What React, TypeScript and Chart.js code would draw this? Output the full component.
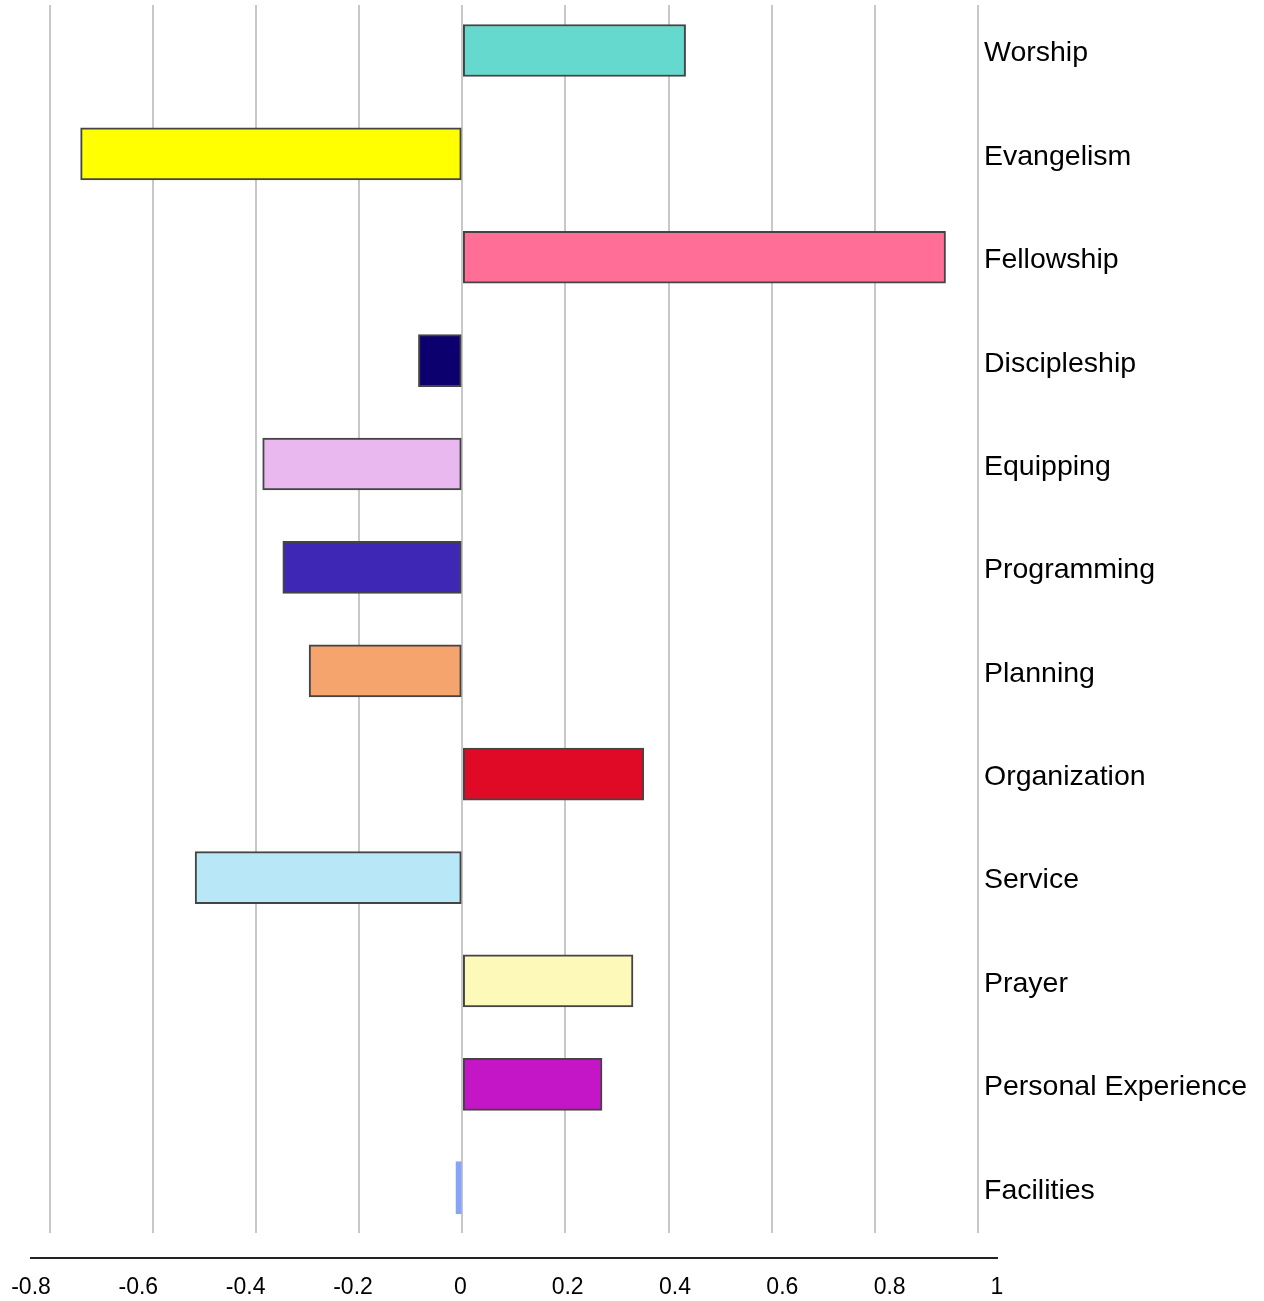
import React, { useEffect, useRef } from 'react';
import { Chart, registerables } from 'chart.js';

Chart.register(...registerables);

const categories = [
  'Worship',
  'Evangelism',
  'Fellowship',
  'Discipleship',
  'Equipping',
  'Programming',
  'Planning',
  'Organization',
  'Service',
  'Prayer',
  'Personal Experience',
  'Facilities',
];

const values = [0.433, -0.74, 0.937, -0.085, -0.387, -0.348, -0.297, 0.352, -0.518, 0.331, 0.271, -0.012];

const barColors = [
  '#66d9cf',
  '#ffff00',
  '#ff6e96',
  '#0c006e',
  '#e8b8ee',
  '#3e27b4',
  '#f5a46e',
  '#e00a26',
  '#b8e8f8',
  '#fdf9b9',
  '#c415c7',
  '#88a4f8',
];

const barBorderWidths = [2, 2, 2, 2, 2, 2, 2, 2, 2, 2, 2, 0];

const xTickValues = [-0.8, -0.6, -0.4, -0.2, 0, 0.2, 0.4, 0.6, 0.8, 1];

const FONT = "'Liberation Sans', Arial, sans-serif";

const labelShiftPlugin = {
  id: 'labelShift',
  afterLayout(chart: any) {
    const y = chart.scales.y;
    if (y) y.left -= 13;
  },
};

export default function App() {
  const canvasRef = useRef<HTMLCanvasElement | null>(null);

  useEffect(() => {
    document.body.style.margin = '0';
    document.body.style.overflow = 'hidden';
    const canvas = canvasRef.current;
    if (!canvas) return;
    const chart = new Chart(canvas, {
      type: 'bar',
      data: {
        datasets: [
          {
            data: values.map((v, i) => ({ x: v, y: i })),
            backgroundColor: barColors,
            borderColor: '#444444',
            borderWidth: barBorderWidths,
            borderSkipped: false,
            barThickness: 52,
            xAxisID: 'x',
            yAxisID: 'y',
          } as any,
        ],
      },
      plugins: [labelShiftPlugin],
      options: {
        indexAxis: 'y',
        responsive: false,
        animation: false,
        devicePixelRatio: 1,
        layout: { padding: { left: 31, top: 5, right: 0, bottom: 0 } },
        plugins: {
          legend: { display: false },
          tooltip: { enabled: false },
        },
        scales: {
          x: {
            type: 'linear',
            axis: 'x',
            position: 'bottom',
            weight: 0,
            min: -0.8362,
            max: 1.0368,
            afterBuildTicks: (s: any) => {
              s.ticks = xTickValues.map((v) => ({ value: v }));
            },
            grid: { color: '#c8c8c8', lineWidth: 2, drawTicks: false },
            border: { display: false },
            ticks: { display: false },
            afterFit: (s: any) => {
              s.height = 25;
              s.paddingLeft = 0;
              s.paddingRight = 0;
            },
          },
          x2: {
            type: 'linear',
            axis: 'x',
            position: 'bottom',
            weight: 1,
            min: -0.8,
            max: 1,
            afterBuildTicks: (s: any) => {
              s.ticks = xTickValues.map((v) => ({ value: v }));
            },
            grid: { display: false, drawTicks: false },
            border: { display: true, color: '#222222', width: 2 },
            ticks: {
              font: { family: FONT, size: 23 },
              color: '#000000',
              padding: 16,
              maxRotation: 0,
              autoSkip: false,
              callback: (v: any) => String(Math.round(Number(v) * 10) / 10),
            },
            afterFit: (s: any) => {
              s.height = 43;
              s.paddingLeft = 0;
              s.paddingRight = 0;
            },
          },
          y: {
            type: 'linear',
            position: 'right',
            reverse: true,
            offset: false,
            min: -0.44,
            max: 11.438,
            afterBuildTicks: (s: any) => {
              s.ticks = categories.map((_, i) => ({ value: i }));
            },
            grid: { display: false, drawTicks: false, offset: false },
            border: { display: false },
            ticks: {
              font: { family: FONT, size: 28.5 },
              color: '#000000',
              padding: 0,
              labelOffset: 3,
              autoSkip: false,
              callback: (v: any) => categories[Number(v)] ?? '',
            },
            afterFit: (s: any) => {
              s.width = 267;
              s.paddingTop = 0;
              s.paddingBottom = 0;
            },
          },
        },
      } as any,
    });
    return () => {
      chart.destroy();
    };
  }, []);

  return (
    <div style={{ width: 1264, height: 1301, position: 'relative' }}>
      <canvas ref={canvasRef} width={1264} height={1301} style={{ display: 'block', width: 1264, height: 1301 }} />
    </div>
  );
}
